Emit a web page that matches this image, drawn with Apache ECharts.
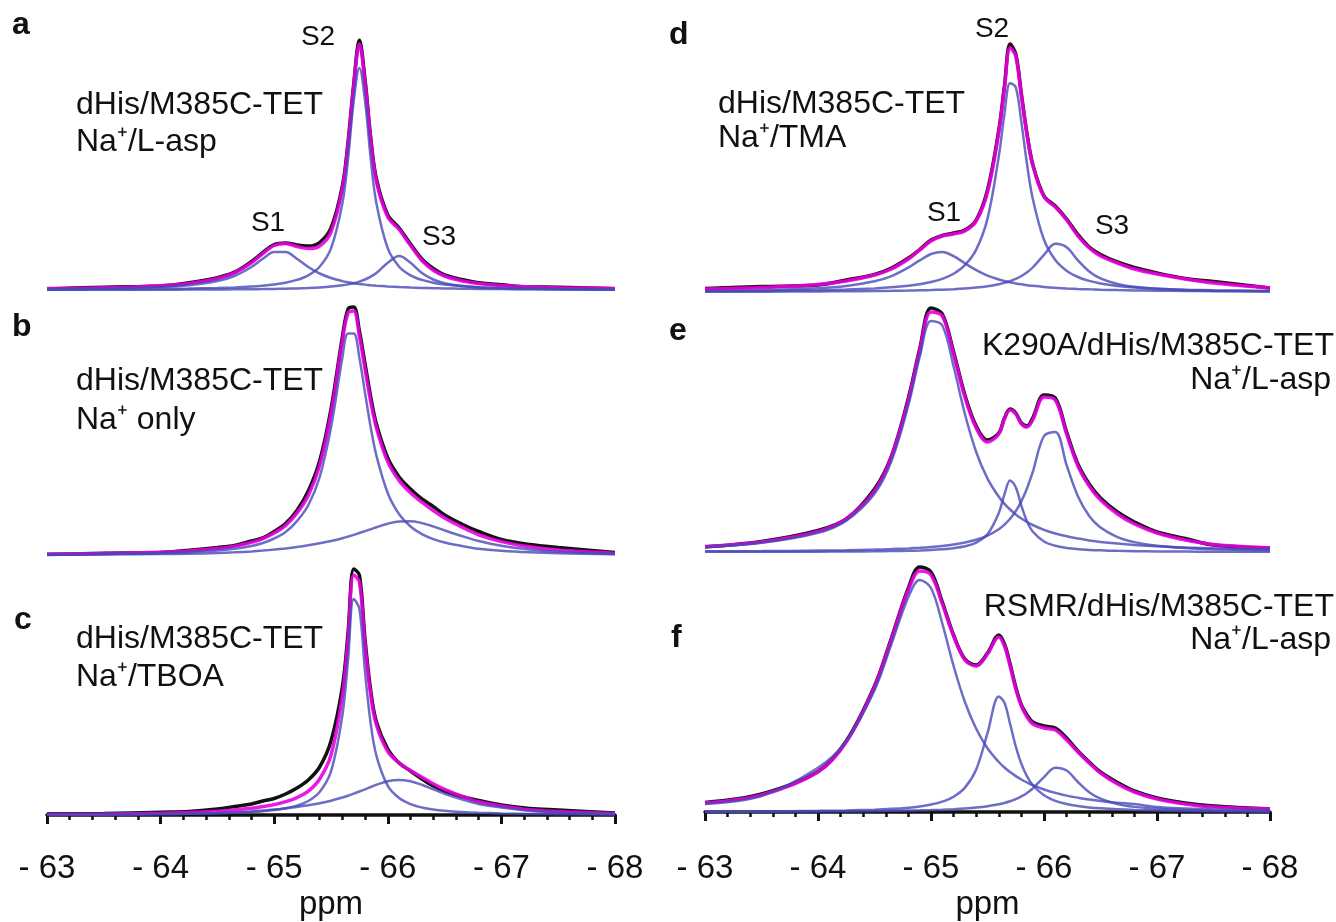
<!DOCTYPE html>
<html>
<head>
<meta charset="utf-8">
<title>23Na NMR spectra, dHis/M385C-TET</title>
<script src="https://cdn.jsdelivr.net/npm/echarts@6/dist/echarts.min.js"></script>
<style>
  html, body { margin: 0; padding: 0; background: #fff; }
  #chart { width: 1336px; height: 922px; }
</style>
</head>
<body>
<div id="chart"></div>
<script>
// chemical shift (ppm) shared by every trace
const ppm = [-63, -63.5, -64, -64.25, -64.5, -64.65, -64.8, -64.9, -65, -65.1, -65.2, -65.3, -65.4, -65.5, -65.6, -65.65, -65.7, -65.75, -65.8, -65.85, -65.9, -66, -66.1, -66.2, -66.3, -66.4, -66.5, -66.65, -66.8, -67, -67.25, -67.5, -68];

// a: dHis/M385C-TET  Na+/L-asp
const aExp = [1.0, 2.8, 4.0, 7.2, 12.3, 17.8, 28.5, 37.5, 45.5, 47, 45, 44, 47.5, 62, 104, 148, 206, 250, 210, 152, 111, 75, 62, 46, 31, 21.5, 15, 10.5, 7.2, 5.2, 3.0, 2.8, 1.3];
const aFit = [1.4, 2.2, 4.3, 6.6, 11.5, 17.2, 27.3, 36.5, 44.5, 46.5, 43.5, 41.5, 44, 58, 101, 145, 204, 246, 207, 150, 108.5, 73, 60.5, 44.5, 29.5, 19.8, 14, 9.3, 6.5, 4.5, 3.1, 2.3, 1.4];
const aS1 = [0.82, 1.41, 2.94, 4.81, 8.9, 14.0, 23.0, 31.2, 37.9, 37.9, 31.2, 23.0, 16.5, 12.0, 8.9, 7.8, 6.85, 6.05, 5.38, 4.81, 4.32, 3.54, 2.94, 2.48, 2.12, 1.84, 1.6, 1.33, 1.11, 0.9, 0.71, 0.58, 0.4];
const aS2 = [0.42, 0.63, 1.04, 1.41, 2.03, 2.61, 3.49, 4.34, 5.54, 7.32, 10.1, 14.7, 23.3, 41.6, 86.6, 131, 189, 222, 189, 131, 86.6, 41.6, 23.3, 14.7, 10.1, 7.32, 5.54, 3.88, 2.86, 2.03, 1.41, 1.04, 0.63];
const aS3 = [0.14, 0.2, 0.31, 0.39, 0.52, 0.63, 0.79, 0.92, 1.09, 1.31, 1.6, 2.0, 2.57, 3.4, 4.69, 5.61, 6.8, 8.37, 10.5, 13.3, 17, 27.2, 34, 27.2, 17, 10.5, 6.8, 3.97, 2.57, 1.6, 1.0, 0.68, 0.37];

// b: Na+ only
const bExp = [0.5, 1.8, 2.5, 4.8, 7.5, 9.5, 14, 17.2, 23.5, 31.5, 44.5, 64, 94, 146, 218, 246, 248, 224, 191, 158, 131, 97, 78, 66, 56, 48.5, 40, 31, 23.5, 15.5, 10.5, 7.5, 2.5];
const bFit = [0.9, 1.5, 2.8, 4.1, 6.4, 8.9, 12.6, 16.4, 21.9, 29.6, 41.9, 59.5, 89.6, 141.4, 214, 242, 244, 219.2, 185.8, 153.2, 127.1, 93.1, 74.4, 62.3, 52.8, 44.5, 37.1, 28.1, 20.2, 13.4, 8.2, 5, 1.8];
const bMain = [0.6, 1.0, 1.9, 2.8, 4.4, 6.2, 9, 12, 16.5, 23, 33.9, 49.8, 77.9, 127.4, 197.2, 221.5, 221.5, 197.2, 161.9, 127.4, 99.3, 61.8, 40.8, 28.5, 20.9, 15.9, 12.5, 9.07, 6.2, 4.2, 2.7, 1.8, 0.8];
const bBroad = [0.3, 0.5, 0.9, 1.3, 2.0, 2.7, 3.6, 4.4, 5.4, 6.6, 8.0, 9.7, 11.7, 14, 16.8, 18.4, 20.1, 22, 23.9, 25.8, 27.8, 31.3, 33.6, 33.8, 31.9, 28.6, 24.6, 19, 14, 9.2, 5.5, 3.2, 1.0];

// c: Na+/TBOA
const cExp = [1.2, 1.5, 2.8, 3.5, 6, 8.5, 11, 14, 16.5, 21, 27, 35, 48, 74, 128, 182, 246, 240, 175, 124, 93, 66, 52, 44, 36, 29, 24, 18.5, 14.5, 10, 6.5, 5, 2];
const cFit = [0.7, 1.0, 1.8, 2.5, 3.8, 5.0, 6.7, 8.4, 10.4, 13.3, 17.4, 23.8, 36, 60, 119, 176, 240, 233, 170, 120, 90, 63.5, 52, 44.6, 37.8, 31.3, 25.6, 18.8, 13.2, 9.1, 5.3, 3.4, 1.4];
const cMain = [0.36, 0.53, 0.89, 1.21, 1.76, 2.28, 3.07, 3.85, 4.97, 6.65, 9.35, 14, 23, 43.6, 99.5, 155, 216, 206, 142.6, 91, 59.2, 29.1, 16.9, 10.9, 7.57, 5.56, 4.25, 3.01, 2.24, 1.6, 1.12, 0.83, 0.51];
const cBroad = [0.3, 0.5, 0.9, 1.3, 2.0, 2.7, 3.6, 4.5, 5.4, 6.6, 8.0, 9.83, 11.8, 14.3, 17.5, 19.3, 21.3, 23.5, 25.7, 28, 30.2, 33.7, 35, 33.7, 30.2, 25.7, 21.3, 15.8, 11, 7.5, 4.2, 2.6, 0.9];

// d: Na+/TMA
const dExp = [3.5, 5.5, 7, 12, 17.5, 24, 34, 42.5, 52, 56.5, 59, 62, 72, 102, 162, 206, 248, 238, 198, 158, 128, 96, 86, 73, 57.5, 45, 37.5, 30, 24.5, 19, 13.5, 10.5, 4];
const dFit = [3, 4.5, 7.5, 11, 17, 23, 33, 42, 51, 56, 58, 61, 71, 100, 160, 204, 244, 236, 196, 157, 127, 95, 85, 72, 56, 44, 36, 29, 23, 18, 13, 9, 4];
const dS1 = [1.1, 1.87, 3.8, 6.04, 10.7, 15.9, 24.4, 31.6, 38, 40, 35.8, 28.7, 21.8, 16.4, 12.5, 11, 9.67, 8.58, 7.65, 6.85, 6.16, 5.06, 4.21, 3.56, 3.04, 2.63, 2.29, 1.9, 1.59, 1.29, 1.02, 0.82, 0.57];
const dS2 = [0.73, 1.10, 1.82, 2.48, 3.59, 4.64, 6.22, 7.77, 9.98, 13.2, 18.3, 26.9, 42.4, 73.4, 135.7, 178, 208.7, 204.8, 169.6, 127.7, 93.6, 52.2, 31.9, 21.2, 15, 11.1, 8.55, 6.09, 4.55, 3.26, 2.29, 1.7, 1.04];
const dS3 = [0.26, 0.37, 0.56, 0.72, 0.96, 1.16, 1.42, 1.66, 1.95, 2.33, 2.82, 3.5, 4.43, 5.76, 7.77, 9.15, 10.9, 13.1, 16, 19.8, 24.5, 37.1, 48.2, 44.8, 31.7, 20.6, 13.6, 8.02, 5.16, 3.2, 1.98, 1.34, 0.73];

// e: K290A/dHis/M385C-TET  Na+/L-asp
const eExp = [5, 10.5, 21.5, 33, 63, 96, 154, 203, 244, 238, 200, 157, 126, 112, 119, 134, 143, 139, 129, 126, 134, 157, 154, 120, 88, 68, 54, 40, 30, 20, 13.5, 7, 4];
const eFit = [5.5, 10, 20.5, 33, 61, 95, 152, 201, 240, 236, 198, 155, 124, 110, 118, 133, 142, 138, 128, 125, 132, 155, 152, 118, 86, 66, 52, 38, 28, 19, 12, 7.5, 4];
const eMain = [5.3, 9.14, 19.2, 31.4, 58.3, 91, 147, 195, 231, 226.5, 185.6, 138, 100, 73.4, 55.2, 48.2, 42.5, 37.6, 33.5, 30, 27, 22.2, 18.5, 15.7, 13.4, 11.6, 10.1, 8.4, 7.08, 5.73, 4.54, 3.67, 2.55];
const eS2 = [0.14, 0.21, 0.35, 0.48, 0.7, 0.91, 1.23, 1.55, 2.0, 2.69, 3.78, 5.68, 9.39, 17.7, 39.1, 57.6, 71.5, 64.8, 46.1, 30.5, 20.5, 10.5, 6.23, 4.07, 2.86, 2.11, 1.63, 1.15, 0.86, 0.62, 0.43, 0.32, 0.2];
const eS3 = [0.63, 0.89, 1.38, 1.78, 2.38, 2.9, 3.61, 4.24, 5.04, 6.09, 7.49, 9.43, 12.2, 16.3, 22.7, 27.3, 33.2, 40.8, 50.9, 63.8, 79.8, 116, 120, 86.8, 55.7, 36, 24.4, 14.9, 9.9, 6.3, 4.03, 2.78, 1.55];

// f: RSMR/dHis/M385C-TET  Na+/L-asp
const fExp = [9.5, 18, 40.5, 71, 126, 174, 224, 245, 240, 210, 177, 153, 147, 159, 177, 168, 148, 125, 107, 97, 90, 86, 84, 74, 61, 50, 40, 29.5, 21, 14, 9, 6, 3];
const fFit = [9, 17, 40, 70, 125, 173, 222, 241, 237, 208, 176, 152, 146, 158, 175, 166, 146, 123, 106, 95, 88, 84, 82, 72, 60, 49, 39, 28, 20, 13, 8, 5, 3];
const fMain = [8, 16, 44.2, 71, 121.8, 168, 215, 232, 224, 188.5, 146, 110, 83.2, 63.8, 50, 44.5, 39.9, 35.9, 32.5, 29.5, 26.8, 22.5, 19.1, 16.4, 14.3, 12.5, 11, 9.26, 7.9, 5, 3.5, 2.5, 1.5];
const fS2 = [0.43, 0.66, 1.14, 1.58, 2.36, 3.14, 4.36, 5.6, 7.47, 10.4, 15.3, 24.4, 42.6, 78.8, 115.5, 109.2, 88.1, 65.7, 48.1, 35.7, 27, 16.7, 11.2, 7.95, 5.92, 4.57, 3.64, 2.68, 2.06, 1.52, 1.09, 0.83, 0.52];
const fS3 = [0.26, 0.37, 0.56, 0.72, 0.96, 1.15, 1.42, 1.65, 1.94, 2.32, 2.81, 3.47, 4.39, 5.7, 7.65, 9, 10.7, 12.8, 15.6, 19.1, 23.5, 34.8, 44.3, 41.5, 30, 19.8, 13.3, 7.9, 5.12, 3.19, 1.97, 1.34, 0.73];

const tickLabels = ['- 63', '- 64', '- 65', '- 66', '- 67', '- 68'];

const panels = [
  { exp: aExp, fit: aFit, comps: [aS1, aS2, aS3] },
  { exp: bExp, fit: bFit, comps: [bMain, bBroad] },
  { exp: cExp, fit: cFit, comps: [cMain, cBroad] },
  { exp: dExp, fit: dFit, comps: [dS1, dS2, dS3] },
  { exp: eExp, fit: eFit, comps: [eMain, eS2, eS3] },
  { exp: fExp, fit: fFit, comps: [fMain, fS2, fS3] }
];

const fam = '"Liberation Sans", Arial, Helvetica, sans-serif';
const chart = echarts.init(document.getElementById('chart'));

// grid boxes: left column a-c, right column d-f (baseline = top + 250)
const boxes = [
  { left: 47, top: 40, width: 568 },
  { left: 47, top: 305, width: 568 },
  { left: 47, top: 565, width: 568 },
  { left: 705, top: 42, width: 565 },
  { left: 705, top: 302, width: 565 },
  { left: 705, top: 562, width: 565 }
];

function pts(ys) {
  return ppm.map((x, i) => [x, ys[i]]);
}

const grids = boxes.map(b => ({ left: b.left, top: b.top, width: b.width, height: 250 }));

const xAxes = boxes.map((b, i) => {
  const bottom = i === 2 || i === 5;
  return {
    gridIndex: i,
    type: 'value',
    min: -68,
    max: -63,
    interval: 1,
    inverse: true,
    show: bottom,
    position: 'bottom',
    offset: i === 2 ? 21 : 24,
    axisLine: { show: true, lineStyle: { color: '#111', width: 3.5 } },
    axisTick: { show: true, length: 9, lineStyle: { color: '#111', width: 3 } },
    minorTick: { show: true, splitNumber: 5, length: 5, lineStyle: { color: '#111', width: 2.5 } },
    splitLine: { show: false },
    axisLabel: {
      margin: 16,
      fontSize: 33,
      fontFamily: fam,
      color: '#111',
      formatter: v => tickLabels[Math.round(-63 - v)]
    },
    name: 'ppm',
    nameLocation: 'middle',
    nameGap: 52,
    nameTextStyle: { fontSize: 33, fontFamily: fam, color: '#111' }
  };
});

const yAxes = boxes.map((b, i) => ({ gridIndex: i, type: 'value', min: 0, max: 250, show: false }));

const series = [];
panels.forEach((p, i) => {
  series.push({
    type: 'line', xAxisIndex: i, yAxisIndex: i, data: pts(p.exp),
    showSymbol: false, smooth: 0.35, z: 2,
    lineStyle: { color: i === 3 ? '#2a0c0c' : '#111', width: 3.5 }
  });
  series.push({
    type: 'line', xAxisIndex: i, yAxisIndex: i, data: pts(p.fit),
    showSymbol: false, smooth: 0.35, z: 3,
    lineStyle: { color: '#e800e0', width: 3.5, opacity: 0.9 }
  });
  p.comps.forEach(c => {
    series.push({
      type: 'line', xAxisIndex: i, yAxisIndex: i, data: pts(c),
      showSymbol: false, smooth: 0.35, z: 4,
      lineStyle: { color: '#4848b8', width: 2.5, opacity: 0.8 }
    });
  });
});

function txt(x, y, text, size, opts) {
  return {
    type: 'text', x: x, y: y, silent: true,
    style: Object.assign({
      text: text, fontSize: size, fontFamily: fam, fill: '#111',
      align: 'left', verticalAlign: 'middle'
    }, opts || {})
  };
}

const bold = { fontWeight: 'bold' };
const right = { align: 'right' };
const mid = { align: 'center' };

const graphic = [
  // panel letters
  txt(12, 25, 'a', 32, bold), txt(12, 327, 'b', 32, bold), txt(14, 620, 'c', 32, bold),
  txt(669, 35, 'd', 32, bold), txt(669, 331, 'e', 32, bold), txt(671, 638, 'f', 32, bold),
  // sample labels
  txt(76, 105, 'dHis/M385C-TET', 32), txt(76, 142, 'Na\u207A/L-asp', 32),
  txt(76, 381, 'dHis/M385C-TET', 32), txt(76, 420, 'Na\u207A only', 32),
  txt(76, 639, 'dHis/M385C-TET', 32), txt(76, 677, 'Na\u207A/TBOA', 32),
  txt(718, 104, 'dHis/M385C-TET', 32), txt(718, 138, 'Na\u207A/TMA', 32),
  txt(1334, 346, 'K290A/dHis/M385C-TET', 32, right), txt(1331, 380, 'Na\u207A/L-asp', 32, right),
  txt(1334, 607, 'RSMR/dHis/M385C-TET', 32, right), txt(1331, 640, 'Na\u207A/L-asp', 32, right),
  // site labels
  txt(318, 37, 'S2', 28, mid), txt(268, 223, 'S1', 28, mid), txt(439, 237, 'S3', 28, mid),
  txt(992, 29, 'S2', 28, mid), txt(944, 213, 'S1', 28, mid), txt(1112, 226, 'S3', 28, mid)
];

chart.setOption({
  backgroundColor: '#fff',
  animation: false,
  grid: grids,
  xAxis: xAxes,
  yAxis: yAxes,
  series: series,
  graphic: graphic
});
</script>
</body>
</html>
